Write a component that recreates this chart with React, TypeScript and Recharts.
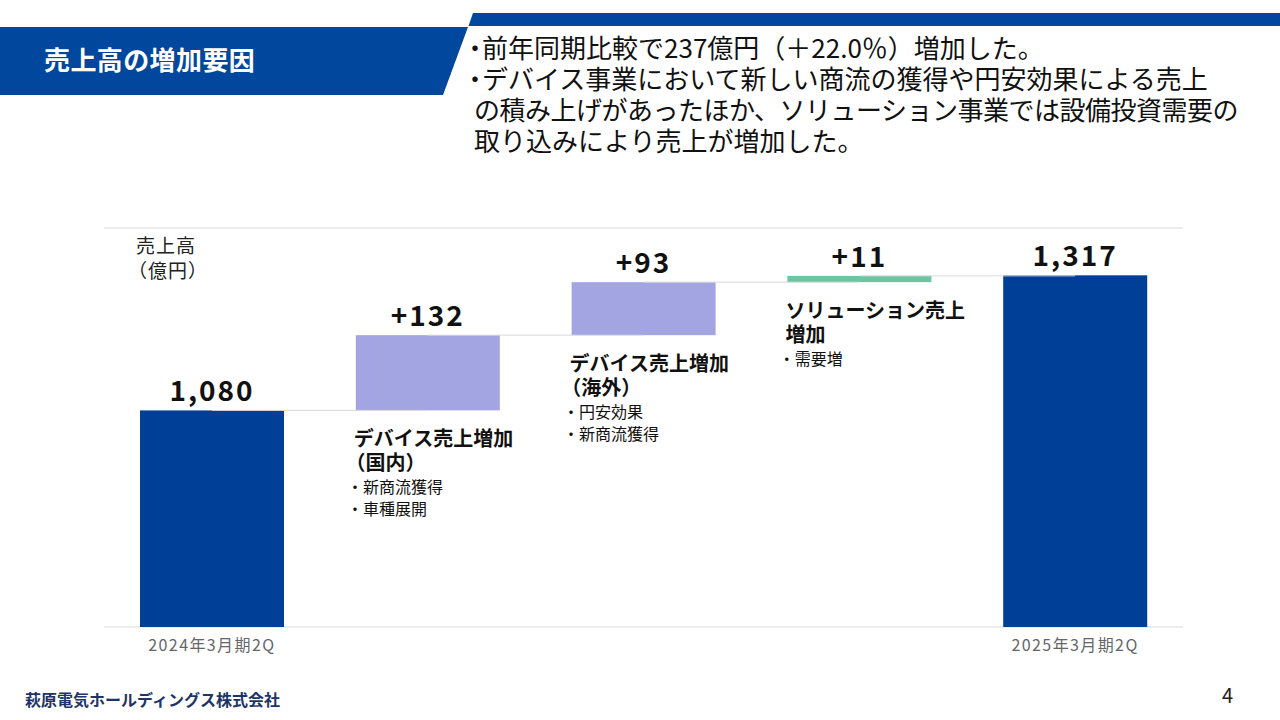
import React from 'react';
import { ComposedChart, Bar, XAxis, YAxis, CartesianGrid, ReferenceLine } from 'recharts';

const categories = ['2024年3月期2Q', 'デバイス売上増加（国内）', 'デバイス売上増加（海外）', 'ソリューション売上増加', '2025年3月期2Q'];
const values = [1080, 132, 93, 11, 1317];
const kinds = ['total', 'delta', 'delta', 'delta', 'total'];
const valueLabels = ['1,080', '+132', '+93', '+11', '1,317'];
const tickLabels = ['2024年3月期2Q', '', '', '', '2025年3月期2Q'];
const barColors = ['#003f98', '#a3a5e3', '#a3a5e3', '#6cc4a1', '#003f98'];
const annotationTitles = [[], ['デバイス売上増加', '（国内）'], ['デバイス売上増加', '（海外）'], ['ソリューション売上', '増加'], []];
const annotationBullets = [[], ['・新商流獲得', '・車種展開'], ['・円安効果', '・新商流獲得'], ['・需要増'], []];
const yTicks = [700, 800, 900, 1000, 1100, 1200, 1300, 1400];
const AXIS_MIN = 700;
const AXIS_MAX = 1400;

const headerLines = [
  '・前年同期比較で237億円（＋22.0％）増加した。',
  '・デバイス事業において新しい商流の獲得や円安効果による売上',
  'の積み上げがあったほか、ソリューション事業では設備投資需要の',
  '取り込みにより売上が増加した。',
];

const FONT = '"Noto Sans CJK JP", "Noto Sans", sans-serif';

let running = 0;
const rows = categories.map((name, i) => {
  let lo: number, hi: number;
  if (kinds[i] === 'total') {
    lo = AXIS_MIN;
    hi = values[i];
    running = values[i];
  } else {
    lo = running;
    hi = running + values[i];
    running = hi;
  }
  return { name, range: [lo, hi], top: hi };
});

const leadShift = (t: string, size: number) => (t.startsWith('（') || t.startsWith('・') ? -size * 0.42 : 0);

const BarShape = (props: any) => {
  const { x, y, width, height, index } = props;
  const top = Math.min(y, y + height);
  const bottom = Math.max(y, y + height);
  const h = Math.max(bottom - top, 1);
  const titles = annotationTitles[index] || [];
  const bullets = annotationBullets[index] || [];
  const titleBase = bottom + 36;
  return (
    <g>
      <rect x={x} y={top} width={width} height={h} fill={barColors[index]} />
      <text
        x={x + width / 2}
        y={top - 9}
        textAnchor="middle"
        fontSize={28}
        fontWeight={600}
        letterSpacing={2}
        fill="#111"
        fontFamily={FONT}
      >
        {valueLabels[index]}
      </text>
      {titles.map((t: string, k: number) => (
        <text key={'t' + k} x={x - 2 + leadShift(t, 20)} y={titleBase + k * 24} fontSize={20} fontWeight={700} fill="#111" fontFamily={FONT}>
          {t}
        </text>
      ))}
      {bullets.map((t: string, k: number) => (
        <text
          key={'b' + k}
          x={x - 2 + leadShift(t, 16)}
          y={titleBase + (titles.length - 1) * 24 + 23 + k * 22}
          fontSize={16}
          fill="#111"
          fontFamily={FONT}
        >
          {t}
        </text>
      ))}
    </g>
  );
};

const Tick = (props: any) => {
  const { x, y, payload } = props;
  const label = tickLabels[payload.index] ?? '';
  return (
    <text x={x} y={y + 24} textAnchor="middle" fontSize={16} letterSpacing={1.4} fill="#666" fontFamily={FONT}>
      {label}
    </text>
  );
};

export default function App() {
  return (
    <div style={{ position: 'absolute', left: 0, top: 0, width: 1280, height: 720, background: '#fff', overflow: 'hidden', fontFamily: FONT }}>
      <svg width={1280} height={110} style={{ position: 'absolute', left: 0, top: 0 }}>
        <polygon points="0,27 468,27 443,95 0,95" fill="#00479d" />
        <polygon points="473,13 1280,13 1280,26 468.5,26" fill="#00479d" />
        <text x={44} y={70} fontSize={26} fontWeight={700} letterSpacing={0.4} fill="#fff" fontFamily={FONT}>
          売上高の増加要因
        </text>
      </svg>
      <div style={{ position: 'absolute', left: 474, top: 31, fontSize: 26, lineHeight: '31px', color: '#111', whiteSpace: 'pre' }}>
        {headerLines.map((l, i) =>
          l.startsWith('・') ? (
            <div key={i} style={{ marginLeft: -12 }}>
              <span style={{ marginRight: -6 }}>・</span>
              {l.slice(1)}
            </div>
          ) : (
            <div key={i} style={{ letterSpacing: i === 2 ? -0.5 : 0 }}>{l}</div>
          )
        )}
      </div>
      <div style={{ position: 'absolute', left: 136, top: 232, fontSize: 19, lineHeight: '25px', color: '#222', letterSpacing: 1 }}>
        <div>売上高</div>
        <div style={{ marginLeft: -8 }}>（億円）</div>
      </div>
      <ComposedChart
        width={1280}
        height={720}
        data={rows}
        margin={{ top: 228, left: 104, right: 97, bottom: 63 }}
        style={{ position: 'absolute', left: 0, top: 0 }}
      >
        <CartesianGrid vertical={false} stroke="#d9d9d9" strokeWidth={1} />
        <YAxis
          width={0}
          domain={[AXIS_MIN, AXIS_MAX]}
          ticks={yTicks}
          type="number"
          tick={false}
          axisLine={false}
          tickLine={false}
          allowDataOverflow
        />
        <XAxis dataKey="name" height={30} axisLine={false} tickLine={false} tickSize={0} tickMargin={0} tick={<Tick />} interval={0} />
        {rows.slice(0, -1).map((r, i) => (
          <ReferenceLine
            key={i}
            segment={[
              { x: categories[i], y: r.top },
              { x: categories[i + 1], y: r.top },
            ]}
            stroke="#d9d9d9"
            strokeWidth={1}
          />
        ))}
        <Bar dataKey="range" barSize={144} isAnimationActive={false} shape={<BarShape />} />
      </ComposedChart>
      <div style={{ position: 'absolute', left: 25, top: 687, fontSize: 16, fontWeight: 700, color: '#1d3466', letterSpacing: 0 }}>
        萩原電気ホールディングス株式会社
      </div>
      <div style={{ position: 'absolute', left: 1222, top: 680, fontSize: 20, color: '#222' }}>4</div>
    </div>
  );
}
